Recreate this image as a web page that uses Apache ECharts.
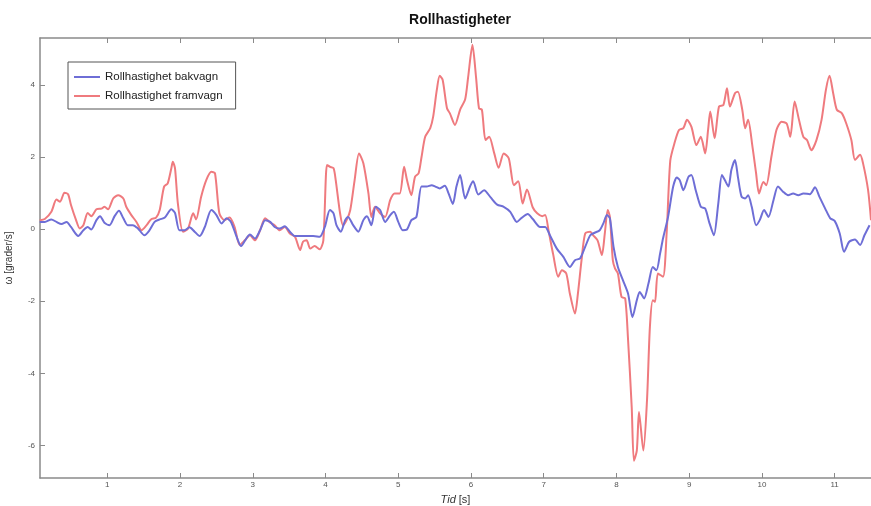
<!DOCTYPE html>
<html>
<head>
<meta charset="utf-8">
<script src="https://cdn.jsdelivr.net/npm/echarts@6/dist/echarts.min.js"></script>
<style>html,body{margin:0;padding:0;background:#fff}#c{width:871px;height:506px}</style>
</head>
<body>
<div id="c"></div>
<script>
const xTicks = [1,2,3,4,5,6,7,8,9,10,11];
const yTicks = [-6,-4,-2,0,2,4];

const tFram = [0.07,0.14,0.23,0.30,0.35,0.41,0.46,0.50,0.57,0.62,0.67,0.73,0.78,0.85,0.92,0.96,1.01,1.08,1.15,1.22,1.26,1.33,1.40,1.47,1.54,1.60,1.67,1.72,1.78,1.83,1.88,1.90,1.93,1.97,2.04,2.11,2.18,2.22,2.29,2.36,2.43,2.48,2.54,2.61,2.68,2.75,2.82,2.89,2.96,3.03,3.10,3.17,3.24,3.30,3.37,3.44,3.51,3.58,3.65,3.69,3.74,3.79,3.85,3.92,3.97,4.02,4.06,4.11,4.14,4.20,4.24,4.29,4.34,4.40,4.46,4.52,4.59,4.63,4.68,4.75,4.82,4.89,4.95,5.02,5.08,5.12,5.18,5.23,5.28,5.32,5.37,5.44,5.48,5.53,5.57,5.61,5.67,5.71,5.78,5.85,5.92,5.96,6.02,6.07,6.11,6.15,6.20,6.25,6.32,6.38,6.45,6.52,6.59,6.65,6.71,6.77,6.85,6.91,6.98,7.02,7.07,7.13,7.20,7.25,7.31,7.36,7.43,7.47,7.52,7.57,7.64,7.68,7.74,7.80,7.84,7.88,7.91,7.95,7.98,8.02,8.07,8.12,8.16,8.21,8.24,8.28,8.31,8.37,8.42,8.46,8.50,8.53,8.57,8.64,8.69,8.74,8.80,8.86,8.92,8.97,9.03,9.10,9.16,9.22,9.26,9.29,9.35,9.41,9.47,9.52,9.56,9.63,9.67,9.73,9.77,9.81,9.87,9.92,9.96,10.02,10.06,10.13,10.20,10.27,10.34,10.39,10.45,10.51,10.57,10.62,10.68,10.75,10.82,10.88,10.93,10.98,11.03,11.10,11.16,11.23,11.28,11.35,11.39,11.46,11.50];
const vFram = [0.25,0.28,0.48,0.82,0.76,1.01,0.97,0.67,0.25,0.02,0.11,0.45,0.36,0.55,0.57,0.62,0.55,0.85,0.94,0.85,0.62,0.39,0.20,-0.03,0.11,0.27,0.32,0.53,1.18,1.27,1.69,1.87,1.69,0.71,-0.07,0.02,0.44,0.27,0.90,1.36,1.59,1.55,0.44,0.25,0.32,0.06,-0.44,-0.31,-0.17,-0.31,-0.03,0.30,0.18,0.11,-0.03,0.06,-0.12,-0.21,-0.58,-0.35,-0.31,-0.54,-0.47,-0.56,-0.31,1.78,1.73,1.69,1.36,0.44,0.11,0.25,0.53,1.36,2.10,1.83,0.99,0.34,0.62,0.44,0.34,0.81,0.99,0.99,1.73,1.36,0.94,1.45,1.55,2.00,2.56,2.80,3.12,3.86,4.25,4.14,3.35,3.21,2.89,3.31,3.60,4.20,5.11,4.20,3.35,3.31,2.47,2.56,2.10,1.70,2.10,1.96,1.22,1.33,0.71,1.10,0.60,0.44,0.36,0.39,-0.08,-0.70,-1.32,-1.14,-1.23,-1.79,-2.34,-1.79,-0.86,-0.12,-0.07,-0.17,-0.31,-0.72,-0.12,0.53,0.34,-0.86,-1.09,-1.23,-1.88,-1.92,-3.08,-4.94,-6.42,-6.14,-5.07,-6.14,-4.75,-2.71,-1.97,-2.02,-1.23,-1.32,-0.12,1.90,2.40,2.75,2.80,3.03,2.84,2.33,2.56,2.10,2.75,3.26,2.52,3.40,3.44,3.91,3.40,3.77,3.81,3.31,2.80,3.03,2.29,1.55,0.99,1.31,1.22,2.00,2.75,2.98,2.93,2.56,3.54,3.03,2.56,2.47,2.19,2.47,3.03,3.86,4.25,3.77,3.31,3.21,2.93,2.47,1.92,2.06,1.83,1.08,0.25];

const tBak = [0.07,0.14,0.23,0.30,0.37,0.44,0.50,0.60,0.67,0.73,0.78,0.85,0.90,0.96,1.03,1.10,1.16,1.22,1.28,1.35,1.42,1.51,1.58,1.65,1.72,1.79,1.88,1.93,1.99,2.06,2.13,2.20,2.27,2.34,2.43,2.50,2.57,2.64,2.70,2.77,2.84,2.91,2.96,3.03,3.10,3.17,3.24,3.30,3.37,3.44,3.51,3.58,3.65,3.74,3.83,3.92,3.99,4.06,4.11,4.15,4.21,4.27,4.31,4.38,4.45,4.52,4.57,4.63,4.69,4.75,4.82,4.89,4.94,5.00,5.06,5.12,5.18,5.25,5.32,5.39,5.46,5.51,5.57,5.64,5.69,5.75,5.80,5.85,5.92,5.99,6.03,6.10,6.18,6.27,6.36,6.45,6.54,6.63,6.70,6.78,6.85,6.95,7.02,7.09,7.18,7.27,7.36,7.43,7.50,7.57,7.64,7.70,7.77,7.82,7.87,7.91,7.96,8.02,8.09,8.16,8.22,8.28,8.32,8.38,8.44,8.50,8.55,8.60,8.64,8.71,8.78,8.83,8.87,8.92,8.99,9.03,9.09,9.16,9.22,9.28,9.34,9.40,9.45,9.49,9.54,9.58,9.63,9.67,9.72,9.77,9.81,9.86,9.92,9.97,10.03,10.09,10.16,10.22,10.29,10.36,10.43,10.50,10.57,10.66,10.73,10.79,10.87,10.94,11.00,11.07,11.13,11.20,11.28,11.35,11.41,11.48];
const vBak = [0.20,0.20,0.27,0.20,0.14,0.20,0.06,-0.19,-0.03,0.06,-0.01,0.25,0.36,0.18,0.11,0.36,0.51,0.30,0.11,0.11,0.02,-0.17,-0.03,0.20,0.27,0.32,0.55,0.45,-0.03,-0.03,0.05,-0.07,-0.19,0.06,0.53,0.39,0.16,0.30,0.20,-0.17,-0.47,-0.26,-0.15,-0.26,-0.03,0.25,0.20,0.06,0.02,0.08,-0.07,-0.19,-0.19,-0.19,-0.19,-0.21,0.06,0.53,0.44,0.11,-0.07,0.25,0.34,0.11,-0.07,0.25,0.36,0.11,0.62,0.53,0.20,0.39,0.48,0.20,-0.03,-0.01,0.25,0.34,1.18,1.18,1.22,1.18,1.13,1.20,1.00,0.70,1.18,1.50,0.85,1.20,1.33,0.96,1.08,0.88,0.68,0.62,0.48,0.20,0.32,0.42,0.28,0.06,0.06,-0.19,-0.54,-0.77,-1.05,-0.86,-0.81,-0.49,-0.17,-0.10,-0.03,0.16,0.39,0.30,-0.49,-1.05,-1.42,-1.79,-2.44,-1.97,-1.74,-1.92,-1.51,-1.05,-1.14,-0.68,-0.26,0.34,1.18,1.43,1.36,1.08,1.45,1.50,1.08,0.62,0.57,0.16,-0.17,0.71,1.50,1.36,1.18,1.64,1.92,1.45,0.90,0.85,0.94,0.62,0.11,0.25,0.53,0.34,0.81,1.18,1.04,0.94,0.99,0.94,0.99,0.97,1.16,0.90,0.57,0.30,0.23,-0.12,-0.63,-0.35,-0.29,-0.44,-0.17,0.11];

const seriesNames = ['Rollhastighet bakvagn', 'Rollhastighet framvagn'];

function pairs(t, v) { return t.map((x, i) => [x, v[i]]); }

const chart = echarts.init(document.getElementById('c'), null, { renderer: 'canvas' });
const axisGray = '#8a8a8a';
const font = 'Liberation Sans';
chart.setOption({
  animation: false,
  backgroundColor: '#fff',
  textStyle: { fontFamily: font },
  title: {
    text: 'Rollhastigheter',
    left: 455, top: 8, textAlign: 'center',
    textStyle: { fontSize: 14, fontWeight: 'bold', color: '#111', fontFamily: font }
  },
  legend: {
    data: seriesNames,
    orient: 'vertical',
    left: 68, top: 62,
    backgroundColor: '#fff',
    borderColor: '#555', borderWidth: 1,
    padding: [9, 13, 7, 6],
    itemGap: 7,
    itemWidth: 26, itemHeight: 2,
    icon: 'rect',
    textStyle: { fontSize: 11.5, color: '#222', fontFamily: font }
  },
  grid: { left: 40, top: 38, right: 0, bottom: 28, containLabel: false, outerBoundsMode: 'none' },
  xAxis: [{
    type: 'value', position: 'bottom', min: 0.074, max: 11.5,
    axisLine: { show: true, onZero: false, lineStyle: { color: axisGray, width: 1.5 } },
    axisTick: { show: true, inside: true, length: 5, customValues: xTicks, lineStyle: { color: axisGray } },
    axisLabel: { show: true, customValues: xTicks, fontSize: 8, color: '#555', margin: 3 },
    splitLine: { show: false },
    name: '{i|Tid} [s]', nameLocation: 'middle', nameGap: 16,
    nameTextStyle: { fontSize: 11, color: '#333', rich: { i: { fontStyle: 'italic', fontSize: 11, color: '#333' } } }
  }, {
    type: 'value', position: 'top', min: 0.074, max: 11.5,
    axisLine: { show: true, onZero: false, lineStyle: { color: axisGray, width: 1.5 } },
    axisTick: { show: true, inside: true, length: 5, customValues: xTicks, lineStyle: { color: axisGray } },
    axisLabel: { show: false },
    splitLine: { show: false }
  }],
  yAxis: {
    type: 'value', min: -6.9, max: 5.3,
    axisLine: { show: true, onZero: false, lineStyle: { color: axisGray, width: 1.5 } },
    axisTick: { show: true, inside: true, length: 5, customValues: yTicks, lineStyle: { color: axisGray } },
    axisLabel: { show: true, customValues: yTicks, fontSize: 8, color: '#555', margin: 5 },
    splitLine: { show: false },
    name: 'ω [grader/s]', nameLocation: 'middle', nameGap: 26, nameRotate: 90,
    nameTextStyle: { fontSize: 10, color: '#333' }
  },
  series: [{
    name: seriesNames[0], type: 'line', xAxisIndex: 0,
    data: pairs(tBak, vBak), showSymbol: false, symbol: 'none', smooth: 0.25,
    lineStyle: { color: '#6e6ed6', width: 2 }, itemStyle: { color: '#6e6ed6' }, z: 3
  }, {
    name: seriesNames[1], type: 'line', xAxisIndex: 0,
    data: pairs(tFram, vFram), showSymbol: false, symbol: 'none', smooth: 0.25,
    lineStyle: { color: '#ef7a7e', width: 2 }, itemStyle: { color: '#ef7a7e' }, z: 2
  }]
});
</script>
</body>
</html>
